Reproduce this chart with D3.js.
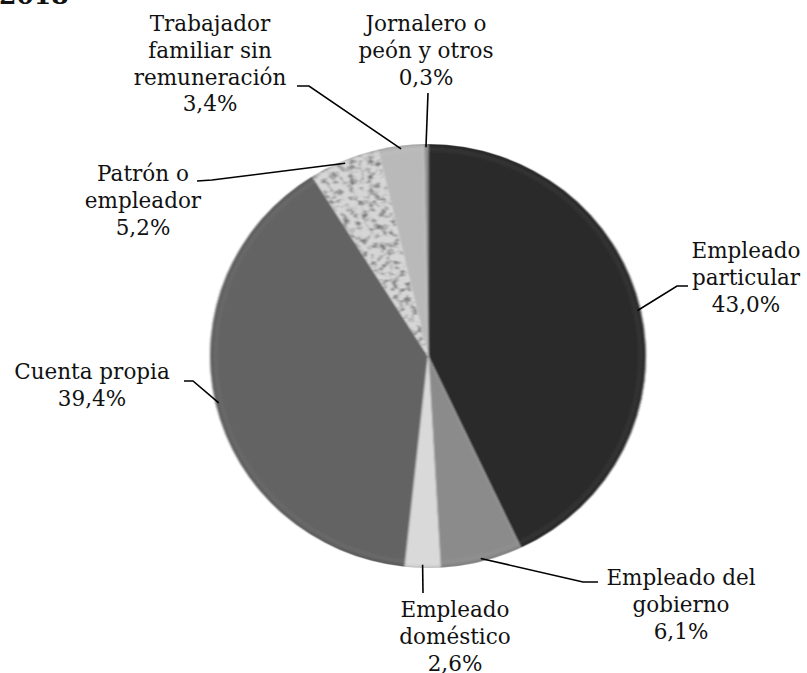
<!DOCTYPE html>
<html><head><meta charset="utf-8">
<script src="https://cdn.jsdelivr.net/npm/d3@7/dist/d3.min.js"></script>
<style>
html,body{margin:0;padding:0;background:#fff;}
svg{display:block;}
text{font-family:"DejaVu Serif",serif;fill:#111;}
</style></head>
<body>
<svg id="chart" width="807" height="673"></svg>
<script>
// ---- data ----
const categories = ["Empleado particular","Empleado del gobierno","Empleado doméstico","Cuenta propia","Patrón o empleador","Trabajador familiar sin remuneración","Jornalero o peón y otros"];
const values = [43.0, 6.1, 2.6, 39.4, 5.2, 3.4, 0.3];
const valueLabels = ["43,0%","6,1%","2,6%","39,4%","5,2%","3,4%","0,3%"];
const labelLines = [["Empleado","particular"],["Empleado del","gobierno"],["Empleado","doméstico"],["Cuenta propia"],["Patrón o","empleador"],["Trabajador","familiar sin","remuneración"],["Jornalero o","peón y otros"]];
const title = "2018";

// ---- styles / layout ----
const colors = ["#2b2b2b","#8b8b8b","#d9d9d9","#636363","url(#speckle)","#b9b9b9","#8f8f8f"];
const labelPos = [ // center x, first baseline y
  [746,258],[681,585],[455,617],[92,379],[143,181],[210,31],[426,31]
];
const leaderElbow = [ // text-side start points of leader lines
  [[688,286],[677,286]],
  [[598,582],[583,582]],
  [[423,593]],
  [[184,381],[193,381]],
  [[197,181],[212,180]],
  [[297,86],[309,86]],
  [[428,93]]
];
const cx = 428, cy = 356, r = 218, ry = 212;
const sy = ry / r;
const lineH = 26.8;

const svg = d3.select("#chart");
const defs = svg.append("defs");

// speckled texture for Patrón slice
const pat = defs.append("pattern").attr("id","speckle").attr("patternUnits","userSpaceOnUse")
  .attr("width",160).attr("height",160);
const filt = defs.append("filter").attr("id","noise").attr("x",0).attr("y",0).attr("width","100%").attr("height","100%");
filt.append("feTurbulence").attr("type","fractalNoise").attr("baseFrequency",0.16).attr("numOctaves",2).attr("seed",5).attr("result","n");
filt.append("feColorMatrix").attr("type","matrix")
  .attr("values","0 0 0 0 0  0 0 0 0 0  0 0 0 0 0  0 0 0 -2.4 1.3");
filt.append("feGaussianBlur").attr("stdDeviation",0.7);
pat.append("rect").attr("width",160).attr("height",160).attr("fill","#d6d6d6");
pat.append("rect").attr("width",160).attr("height",160).attr("fill","#333").attr("opacity",0.55).attr("filter","url(#noise)");

// bevel gradient
const bevel = defs.append("radialGradient").attr("id","bevel").attr("cx","50%").attr("cy","50%").attr("r","50%");
[[0,"#fff",0],[0.955,"#fff",0],[0.978,"#fff",0.04],[0.99,"#000",0.03],[1,"#000",0.15]].forEach(s=>{
  bevel.append("stop").attr("offset",s[0]).attr("stop-color",s[1]).attr("stop-opacity",s[2]);
});
const soft = defs.append("filter").attr("id","soft").attr("x","-5%").attr("y","-5%").attr("width","110%").attr("height","110%");
soft.append("feGaussianBlur").attr("stdDeviation",0.8);

// title (cut off at top)
svg.append("text").attr("x",-1).attr("y",4).attr("font-size",25).attr("font-weight","bold").text(title);

const pie = d3.pie().sort(null).value(d=>d);
const arcs = pie(values);
const arc = d3.arc().innerRadius(0).outerRadius(r);

const g = svg.append("g").attr("transform",`translate(${cx},${cy}) scale(1,${sy})`);
const pg = g.append("g").attr("filter","url(#soft)");
pg.selectAll("path.slice").data(arcs).join("path").attr("class","slice")
  .attr("d",arc).attr("fill",(d,i)=>colors[i])
  .attr("stroke","rgba(255,255,255,0.3)").attr("stroke-width",0.8);
pg.append("circle").attr("r",r).attr("fill","url(#bevel)");

// leader lines
const lg = svg.append("g");
arcs.forEach((d,i)=>{
  const a = (d.startAngle + d.endAngle)/2;
  const ex = cx + Math.sin(a)*r*0.985;
  const ey = cy - Math.cos(a)*ry*0.985;
  const pts = leaderElbow[i].concat([[ex,ey]]);
  lg.append("path").attr("d",d3.line()(pts)).attr("fill","none").attr("stroke","#000").attr("stroke-width",1.6);
});

// labels
const tg = svg.append("g");
arcs.forEach((d,i)=>{
  const lines = labelLines[i].concat([valueLabels[i]]);
  const t = tg.append("text").attr("text-anchor","middle").attr("font-size",21.5);
  lines.forEach((ln,j)=>{
    t.append("tspan").attr("x",labelPos[i][0]).attr("y",labelPos[i][1]+j*lineH).text(ln);
  });
});
</script>
</body></html>
